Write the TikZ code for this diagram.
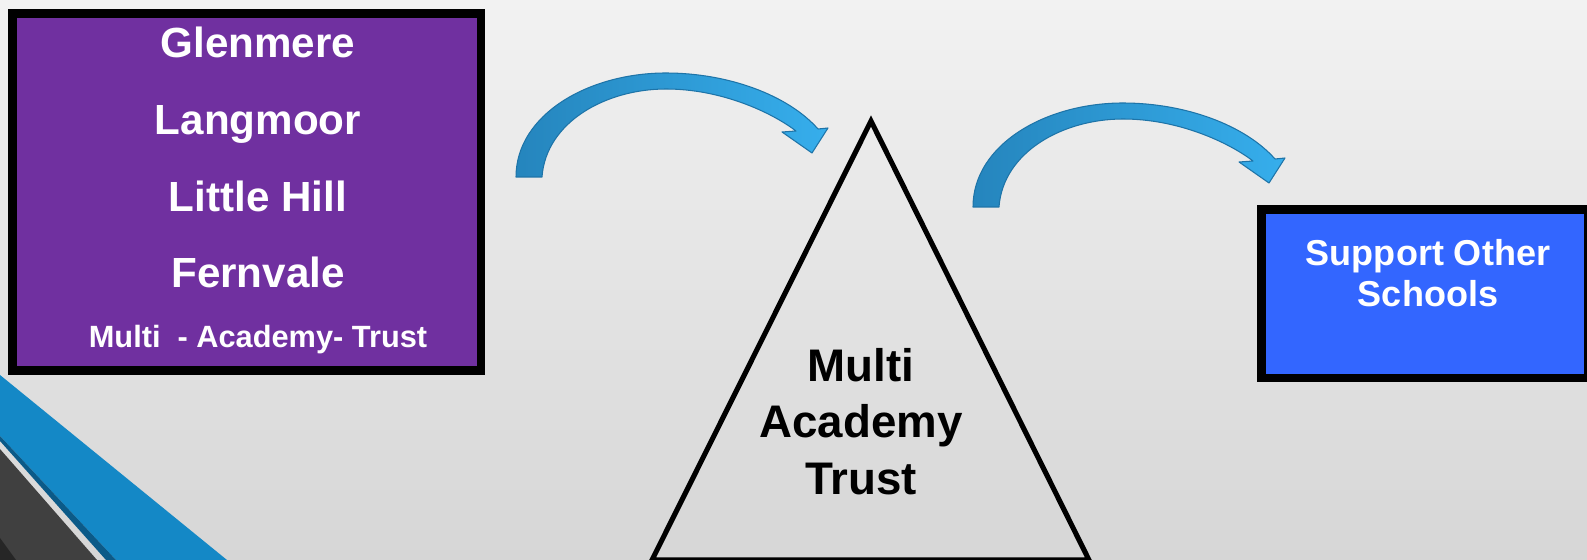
\documentclass[tikz,border=0pt]{standalone}
\usepackage{fontspec}
\setmainfont{Liberation Sans}
\definecolor{bgtop}{HTML}{F2F2F2}
\definecolor{bgbot}{HTML}{D6D6D6}
\definecolor{trustpurple}{HTML}{7030A0}
\definecolor{supportblue}{HTML}{3366FF}
\definecolor{bandblue}{HTML}{1488C6}
\definecolor{banddark}{HTML}{0B5A88}
\definecolor{bandgrey}{HTML}{404040}
\definecolor{arrowdark}{HTML}{2585BD}
\definecolor{arrowlight}{HTML}{36AEEC}
\definecolor{arrowedge}{HTML}{1E74A8}
\tikzset{
  school/.style={text=white, anchor=base, font=\bfseries\fontsize{24}{29}\selectfont},
  trustword/.style={anchor=base, font=\bfseries\fontsize{26}{31}\selectfont},
  support/.style={text=white, align=center, font=\bfseries\fontsize{20.5}{23}\selectfont},
  bendarrow/.pic={
    \path[draw=arrowedge, line width=0.6pt, left color=arrowdark, right color=arrowlight, line join=round]
      (0,0) .. controls (0,-62) and (72,-104) .. (150,-104)
      .. controls (212,-104) and (272,-82) .. (302,-48)
      -- (312,-49) -- (296,-24) -- (266,-45) -- (280,-46)
      .. controls (255,-65) and (205,-88) .. (150,-88)
      .. controls (90,-88) and (30,-55) .. (26,0) -- cycle;
  }
}
\begin{document}
\begin{tikzpicture}[x=0.02cm, y=-0.02cm]
	    \useasboundingbox (0,0) rectangle (1587,560);
	    \clip (0,0) rectangle (1587,560);
	    \shade[top color=bgtop, bottom color=bgbot] (0,0) rectangle (1587,560);
	    
	    % corner bands
	    \fill[bandblue] (0,375) -- (227,560) -- (116,560) -- (0,436) -- cycle;
	    \fill[banddark] (0,436) -- (116,560) -- (106,560) -- (0,441) -- cycle;
	    \fill[bandgrey] (0,449) -- (97,560) -- (0,560) -- cycle;
	    \fill[black!85] (0,538) -- (16,560) -- (0,560) -- cycle;
	    
	    % boxes
	    \draw[line width=5.1pt, fill=trustpurple] (12.5,13.5) rectangle (481,370.5);
	    \draw[line width=5.1pt, fill=supportblue] (1261.5,209.5) rectangle (1588,378);
	    
	    \node[school] (GL) at (258,58) {Glenmere};
	    \node[school] (LA) at (258,135) {Langmoor};
	    \node[school] (LH) at (258,212) {Little Hill};
	    \node[school] (FE) at (258,288) {Fernvale};
	    \node[school, font=\bfseries\fontsize{17.5}{21}\selectfont] (MT) at (258,348) {Multi\ \ - Academy- Trust};
	    
	    \node[support] (SO) at (1428,273) {Support Other\\Schools};
	    
	    % triangle
	    \draw[line width=2.9pt] (871,121) -- (652,560) -- (1089,560) -- cycle;
	    \node[trustword] (TA) at (861,382) {Multi};
	    \node[trustword] (TB) at (861,438) {Academy};
	    \node[trustword] (TC) at (861,495) {Trust};
	    
	    % arrows
	    \pic at (516,177) {bendarrow};
	    \pic at (973,207) {bendarrow};
\end{tikzpicture}
\end{document}
